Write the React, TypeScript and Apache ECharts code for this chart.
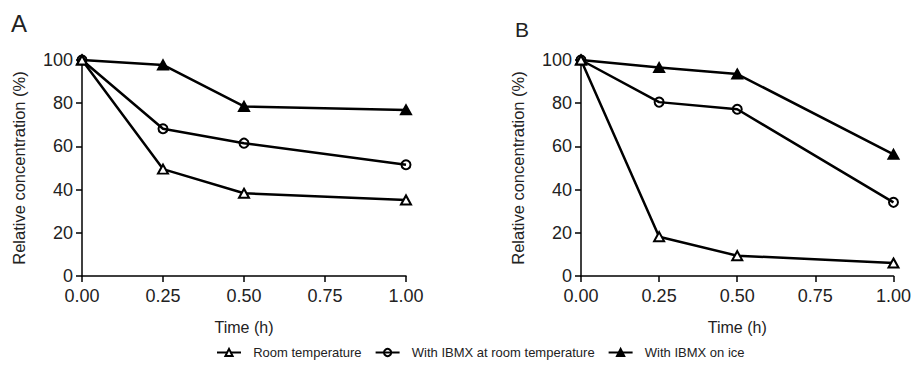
import React, { useEffect, useRef } from "react";
import * as echarts from "echarts";

const times = [0, 0.25, 0.5, 1.0];
const xTicks = ["0.00", "0.25", "0.50", "0.75", "1.00"];
const seriesNames = ["Room temperature", "With IBMX at room temperature", "With IBMX on ice"];
const aRoom = [100, 49.5, 38.3, 35.2];
const aIbmxRoom = [100, 68.2, 61.5, 51.5];
const aIbmxIce = [100, 97.7, 78.5, 76.9];
const bRoom = [100, 18.2, 9.4, 6.0];
const bIbmxRoom = [100, 80.5, 77.2, 34.1];
const bIbmxIce = [100, 96.5, 93.5, 56.3];

const FONT = "Liberation Sans";
const TXT = "#222";

const App: React.FC = () => {
  const ref = useRef<HTMLDivElement>(null);
  useEffect(() => {
    if (!ref.current) return;
    const chart = echarts.init(ref.current, null, { renderer: "svg" });
    const pair = (vals: number[]) => vals.map((v, i) => [times[i], v]);
    const styles = [
      { symbol: "triangle", color: "#fff", size: [10, 9] },
      { symbol: "circle", color: "rgba(255,255,255,0)", size: 9 },
      { symbol: "triangle", color: "#000", size: [10, 9] },
    ];
    const mk = (name: string, idx: number, vals: number[], axis: number) => ({
      type: "line",
      name,
      xAxisIndex: axis,
      yAxisIndex: axis,
      data: pair(vals),
      symbol: styles[idx].symbol,
      symbolSize: styles[idx].size,
      showAllSymbol: true,
      lineStyle: { color: "#000", width: 2.5 },
      itemStyle: { color: styles[idx].color, borderColor: "#000", borderWidth: 2 },
      z: 3 - idx,
    });
    const xAxisBase = (gridIndex: number) => ({
      type: "value",
      gridIndex,
      min: 0,
      max: 1,
      interval: 0.25,
      name: "Time (h)",
      nameLocation: "middle",
      nameGap: 43,
      nameTextStyle: { fontFamily: FONT, fontSize: 16, color: TXT },
      axisLine: { show: true, lineStyle: { color: "#000", width: 1.5 } },
      axisTick: { show: true, length: 6, lineStyle: { color: "#000", width: 1.5 } },
      axisLabel: {
        fontFamily: FONT,
        fontSize: 18,
        color: TXT,
        margin: 11,
        formatter: (v: number) => xTicks[Math.round(v / 0.25)] ?? "",
      },
      splitLine: { show: false },
    });
    const yAxisBase = (gridIndex: number) => ({
      type: "value",
      gridIndex,
      min: 0,
      max: 100,
      interval: 20,
      name: "Relative concentration (%)",
      nameLocation: "middle",
      nameGap: 55,
      nameTextStyle: { fontFamily: FONT, fontSize: 16.5, color: TXT },
      axisLine: { show: true, lineStyle: { color: "#000", width: 1.5 } },
      axisTick: { show: true, length: 6, lineStyle: { color: "#000", width: 1.5 } },
      axisLabel: { fontFamily: FONT, fontSize: 18, color: TXT, margin: 9 },
      splitLine: { show: false },
    });
    chart.setOption({
      animation: false,
      backgroundColor: "#fff",
      title: [
        { text: "A", left: 3, top: 3, padding: 0, textStyle: { fontFamily: FONT, fontSize: 24, fontWeight: "normal", color: TXT } },
        { text: "B", left: 507, top: 11, padding: 0, textStyle: { fontFamily: FONT, fontSize: 21, fontWeight: "normal", color: TXT } },
      ],
      grid: [
        { left: 74, top: 52, width: 324, height: 216 },
        { left: 573, top: 52, width: 324, height: 216 },
      ],
      xAxis: [xAxisBase(0), xAxisBase(1)],
      yAxis: [yAxisBase(0), yAxisBase(1)],
      legend: {
        top: 333,
        left: 203,
        data: seriesNames,
        itemWidth: 24,
        itemHeight: 9,
        itemGap: 13,
        formatter: (n: string) => "  " + n,
        textStyle: { fontFamily: FONT, fontSize: 13, color: TXT },
      },
      series: [
        mk(seriesNames[0], 0, aRoom, 0),
        mk(seriesNames[1], 1, aIbmxRoom, 0),
        mk(seriesNames[2], 2, aIbmxIce, 0),
        mk(seriesNames[0], 0, bRoom, 1),
        mk(seriesNames[1], 1, bIbmxRoom, 1),
        mk(seriesNames[2], 2, bIbmxIce, 1),
      ],
    });
    return () => chart.dispose();
  }, []);
  return <div ref={ref} style={{ width: 906, height: 355 }} />;
};

export default App;
